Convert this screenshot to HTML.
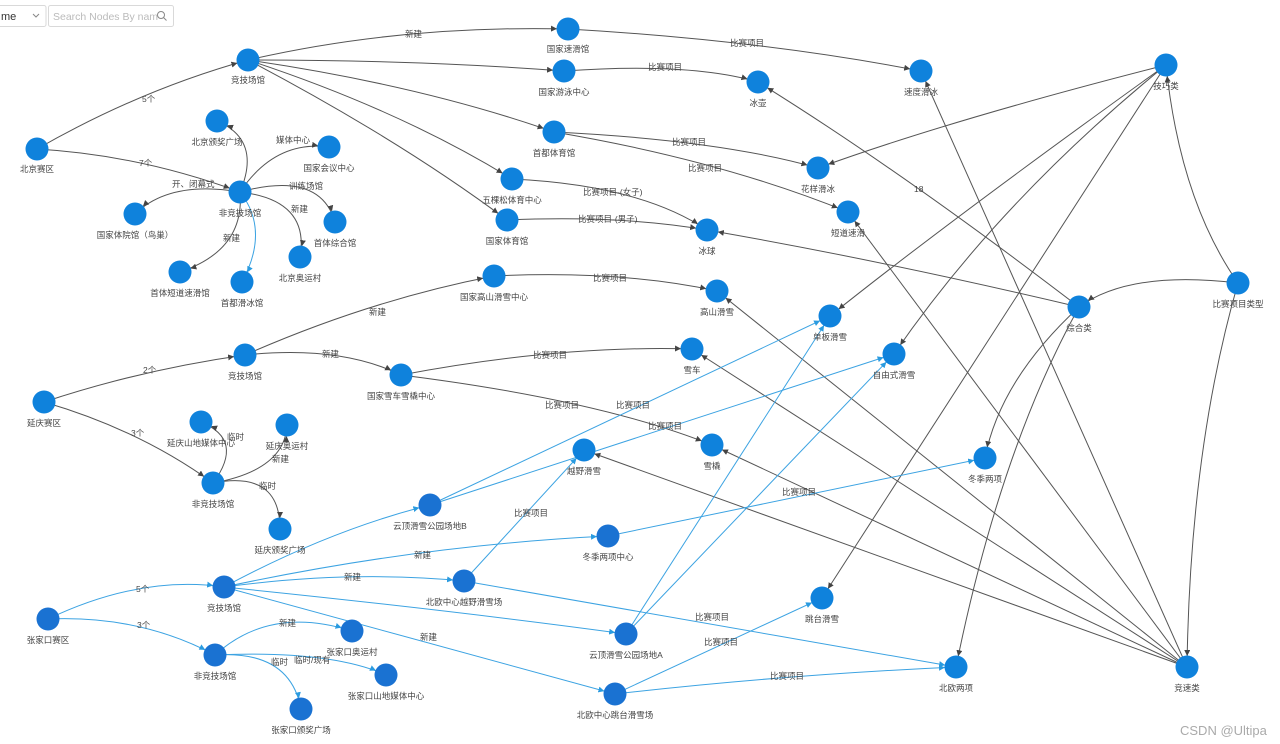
<!DOCTYPE html>
<html><head><meta charset="utf-8"><style>
html,body{margin:0;padding:0;background:#fff;width:1280px;height:744px;overflow:hidden}
svg{display:block}
text{font-family:"Liberation Sans","Noto Sans CJK SC",sans-serif;font-size:8.5px;fill:#444}
.el{fill:#555}
.nl{text-anchor:middle}
.k{stroke:#555;stroke-width:1;fill:none}
.b{stroke:#3ca3e2;stroke-width:1;fill:none}
circle{fill:#0f82dc}
</style></head><body>
<svg width="1280" height="744" viewBox="0 0 1280 744">
<defs>
<marker id="ak" markerUnits="userSpaceOnUse" markerWidth="8" markerHeight="8" refX="17" refY="3" orient="auto"><path d="M0,0 L6,3 L0,6 z" fill="#444"/></marker>
<marker id="ab" markerUnits="userSpaceOnUse" markerWidth="8" markerHeight="8" refX="17" refY="3" orient="auto"><path d="M0,0 L6,3 L0,6 z" fill="#2a9be0"/></marker>
</defs>
<!-- UI -->
<rect x="-2" y="5.5" width="48" height="21" rx="2" fill="#fff" stroke="#d9d9d9"/>
<text x="1" y="20" style="font-size:11px;fill:#333">me</text>
<path d="M33,14 l3,3 l3,-3" stroke="#888" fill="none"/>
<rect x="48.5" y="5.5" width="125" height="21" rx="2" fill="#fff" stroke="#d9d9d9"/>
<text x="53" y="20" style="font-size:10.5px;fill:#bbb">Search Nodes By nam</text>
<circle cx="161" cy="15" r="3.5" style="fill:none;stroke:#888"/><path d="M163.5,17.5 l3,3" stroke="#888"/>

<g class="k" marker-end="url(#ak)">
<path d="M37,149 Q140,90 248,60"/>
<path d="M37,149 Q140,155 240,192"/>
<path d="M248,60 Q400,25 568,29"/>
<path d="M248,60 Q420,60 564,71"/>
<path d="M248,60 Q420,85 554,132"/>
<path d="M248,60 Q400,110 512,179"/>
<path d="M248,60 Q400,140 507,220"/>
<path d="M568,29 Q760,40 921,71"/>
<path d="M564,71 Q690,62 758,82"/>
<path d="M554,132 Q720,140 818,168"/>
<path d="M554,132 Q720,160 848,212"/>
<path d="M512,179 Q640,185 707,230"/>
<path d="M507,220 Q620,215 707,230"/>
<path d="M240,192 Q262,140 217,121"/>
<path d="M240,192 Q275,140 329,147"/>
<path d="M240,192 Q170,180 135,214"/>
<path d="M240,192 Q320,170 335,222"/>
<path d="M240,192 Q310,200 300,257"/>
<path d="M240,192 Q245,250 180,272"/>
<path d="M44,402 Q140,370 245,355"/>
<path d="M44,402 Q140,430 213,483"/>
<path d="M245,355 Q370,300 494,276"/>
<path d="M245,355 Q340,345 401,375"/>
<path d="M494,276 Q620,270 717,291"/>
<path d="M401,375 Q560,345 692,349"/>
<path d="M401,375 Q600,400 712,445"/>
<path d="M213,483 Q245,440 201,422"/>
<path d="M213,483 Q285,470 287,425"/>
<path d="M213,483 Q280,470 280,529"/>
<path d="M1166,65 Q950,120 818,168"/>
<path d="M1166,65 Q950,220 830,316"/>
<path d="M1166,65 Q1000,200 894,354"/>
<path d="M1166,65 Q950,400 822,598"/>
<path d="M1238,283 Q1180,200 1166,65"/>
<path d="M1238,283 Q1130,270 1079,307"/>
<path d="M1238,283 Q1190,450 1187,667"/>
<path d="M1079,307 Q880,260 707,230"/>
<path d="M1079,307 Q1000,380 985,458"/>
<path d="M1079,307 Q1000,450 956,667"/>
<path d="M1079,307 Q900,170 758,82"/>
<path d="M1187,667 L921,71"/>
<path d="M1187,667 L848,212"/>
<path d="M1187,667 L717,291"/>
<path d="M1187,667 L692,349"/>
<path d="M1187,667 L712,445"/>
<path d="M1187,667 L584,450"/>
</g>
<g class="b" marker-end="url(#ab)">
<path d="M240,192 Q270,230 242,282"/>
<path d="M48,619 Q140,575 224,587"/>
<path d="M48,619 Q140,615 215,655"/>
<path d="M224,587 Q330,530 430,505"/>
<path d="M224,587 Q420,545 608,536"/>
<path d="M224,587 Q350,570 464,581"/>
<path d="M224,587 Q450,610 626,634"/>
<path d="M224,587 Q420,640 615,694"/>
<path d="M430,505 L830,316"/>
<path d="M430,505 L894,354"/>
<path d="M464,581 L584,450"/>
<path d="M608,536 L985,458"/>
<path d="M464,581 L956,667"/>
<path d="M626,634 L830,316"/>
<path d="M626,634 L894,354"/>
<path d="M615,694 L822,598"/>
<path d="M615,694 Q780,675 956,667"/>
<path d="M215,655 Q270,605 352,631"/>
<path d="M215,655 Q330,650 386,675"/>
<path d="M215,655 Q290,650 301,709"/>
</g>

<!-- edge labels -->
<g class="el">
<text x="142" y="102">5个</text><text x="139" y="166">7个</text>
<text x="405" y="37">新建</text>
<text x="730" y="46">比赛项目</text><text x="648" y="70">比赛项目</text>
<text x="672" y="145">比赛项目</text><text x="688" y="171">比赛项目</text>
<text x="583" y="195">比赛项目-(女子)</text><text x="578" y="222">比赛项目-(男子)</text>
<text x="276" y="143">媒体中心</text><text x="172" y="187">开、闭幕式</text>
<text x="289" y="189">训练场馆</text><text x="291" y="212">新建</text><text x="223" y="241">新建</text>
<text x="143" y="373">2个</text><text x="131" y="436">3个</text>
<text x="369" y="315">新建</text><text x="322" y="357">新建</text>
<text x="593" y="281">比赛项目</text><text x="533" y="358">比赛项目</text>
<text x="545" y="408">比赛项目</text><text x="616" y="408">比赛项目</text><text x="648" y="429">比赛项目</text>
<text x="227" y="440">临时</text><text x="272" y="462">新建</text><text x="259" y="489">临时</text>
<text x="914" y="192">18</text>
<text x="514" y="516">比赛项目</text><text x="782" y="495">比赛项目</text>
<text x="414" y="558">新建</text><text x="344" y="580">新建</text><text x="420" y="640">新建</text>
<text x="136" y="592">5个</text><text x="137" y="628">3个</text>
<text x="279" y="626">新建</text><text x="294" y="663">临时/现有</text><text x="271" y="665">临时</text>
<text x="695" y="620">比赛项目</text><text x="704" y="645">比赛项目</text><text x="770" y="679">比赛项目</text>
</g>

<!-- nodes -->
<g>
<circle cx="37" cy="149" r="11.5"/><circle cx="248" cy="60" r="11.5"/><circle cx="240" cy="192" r="11.5"/>
<circle cx="568" cy="29" r="11.5"/><circle cx="564" cy="71" r="11.5"/><circle cx="554" cy="132" r="11.5"/>
<circle cx="512" cy="179" r="11.5"/><circle cx="507" cy="220" r="11.5"/><circle cx="217" cy="121" r="11.5"/>
<circle cx="329" cy="147" r="11.5"/><circle cx="135" cy="214" r="11.5"/><circle cx="335" cy="222" r="11.5"/>
<circle cx="300" cy="257" r="11.5"/><circle cx="180" cy="272" r="11.5"/><circle cx="242" cy="282" r="11.5"/>
<circle cx="494" cy="276" r="11.5"/><circle cx="245" cy="355" r="11.5"/><circle cx="401" cy="375" r="11.5"/>
<circle cx="44" cy="402" r="11.5"/><circle cx="201" cy="422" r="11.5"/><circle cx="287" cy="425" r="11.5"/>
<circle cx="213" cy="483" r="11.5"/><circle cx="280" cy="529" r="11.5"/>
<circle cx="430" cy="505" r="11.5" style="fill:#1a72d2"/><circle cx="584" cy="450" r="11.5"/>
<circle cx="608" cy="536" r="11.5" style="fill:#1a72d2"/><circle cx="464" cy="581" r="11.5" style="fill:#1a72d2"/>
<circle cx="224" cy="587" r="11.5" style="fill:#1a72d2"/><circle cx="48" cy="619" r="11.5" style="fill:#1a72d2"/>
<circle cx="215" cy="655" r="11.5" style="fill:#1a72d2"/><circle cx="352" cy="631" r="11.5" style="fill:#1a72d2"/>
<circle cx="386" cy="675" r="11.5" style="fill:#1a72d2"/><circle cx="301" cy="709" r="11.5" style="fill:#1a72d2"/>
<circle cx="626" cy="634" r="11.5" style="fill:#1a72d2"/><circle cx="615" cy="694" r="11.5" style="fill:#1a72d2"/>
<circle cx="758" cy="82" r="11.5"/><circle cx="921" cy="71" r="11.5"/><circle cx="1166" cy="65" r="11.5"/>
<circle cx="818" cy="168" r="11.5"/><circle cx="848" cy="212" r="11.5"/><circle cx="707" cy="230" r="11.5"/>
<circle cx="717" cy="291" r="11.5"/><circle cx="830" cy="316" r="11.5"/><circle cx="1079" cy="307" r="11.5"/>
<circle cx="1238" cy="283" r="11.5"/><circle cx="894" cy="354" r="11.5"/><circle cx="692" cy="349" r="11.5"/>
<circle cx="712" cy="445" r="11.5"/><circle cx="985" cy="458" r="11.5"/><circle cx="822" cy="598" r="11.5"/>
<circle cx="956" cy="667" r="11.5"/><circle cx="1187" cy="667" r="11.5"/>
</g>
<g class="nl">
<text x="37" y="172">北京赛区</text><text x="248" y="83">竞技场馆</text><text x="240" y="216">非竞技场馆</text>
<text x="568" y="52">国家速滑馆</text><text x="564" y="95">国家游泳中心</text><text x="554" y="156">首都体育馆</text>
<text x="512" y="203">五棵松体育中心</text><text x="507" y="244">国家体育馆</text><text x="217" y="145">北京颁奖广场</text>
<text x="329" y="171">国家会议中心</text><text x="135" y="238">国家体院馆（鸟巢）</text><text x="335" y="246">首体综合馆</text>
<text x="300" y="281">北京奥运村</text><text x="180" y="296">首体短道速滑馆</text><text x="242" y="306">首都滑冰馆</text>
<text x="494" y="300">国家高山滑雪中心</text><text x="245" y="379">竞技场馆</text><text x="401" y="399">国家雪车雪橇中心</text>
<text x="44" y="426">延庆赛区</text><text x="201" y="446">延庆山地媒体中心</text><text x="287" y="449">延庆奥运村</text>
<text x="213" y="507">非竞技场馆</text><text x="280" y="553">延庆颁奖广场</text>
<text x="430" y="529">云顶滑雪公园场地B</text><text x="584" y="474">越野滑雪</text>
<text x="608" y="560">冬季两项中心</text><text x="464" y="605">北欧中心越野滑雪场</text>
<text x="224" y="611">竞技场馆</text><text x="48" y="643">张家口赛区</text>
<text x="215" y="679">非竞技场馆</text><text x="352" y="655">张家口奥运村</text>
<text x="386" y="699">张家口山地媒体中心</text><text x="301" y="733">张家口颁奖广场</text>
<text x="626" y="658">云顶滑雪公园场地A</text><text x="615" y="718">北欧中心跳台滑雪场</text>
<text x="758" y="106">冰壶</text><text x="921" y="95">速度滑冰</text><text x="1166" y="89">技巧类</text>
<text x="818" y="192">花样滑冰</text><text x="848" y="236">短道速滑</text><text x="707" y="254">冰球</text>
<text x="717" y="315">高山滑雪</text><text x="830" y="340">单板滑雪</text><text x="1079" y="331">综合类</text>
<text x="1238" y="307">比赛项目类型</text><text x="894" y="378">自由式滑雪</text><text x="692" y="373">雪车</text>
<text x="712" y="469">雪橇</text><text x="985" y="482">冬季两项</text><text x="822" y="622">跳台滑雪</text>
<text x="956" y="691">北欧两项</text><text x="1187" y="691">竞速类</text>
</g>
<text x="1180" y="735" style="font-size:13px;fill:#aaa">CSDN @Ultipa</text>
</svg>
</body></html>
